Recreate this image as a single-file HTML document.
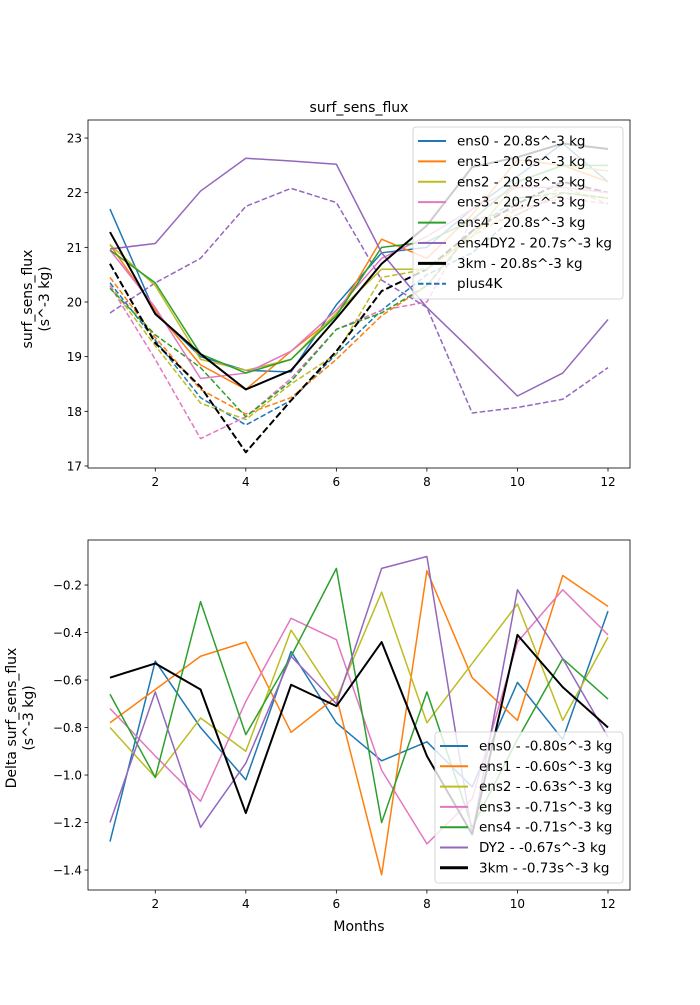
<!DOCTYPE html>
<html><head><meta charset="utf-8"><style>
body{margin:0;background:#fff;font-family:"Liberation Sans","DejaVu Sans",sans-serif}
</style></head><body>
<svg id="fig" width="700" height="1000" xmlns="http://www.w3.org/2000/svg" font-family="DejaVu Sans, Liberation Sans, sans-serif"></svg>
<script>
const months=[1,2,3,4,5,6,7,8,9,10,11,12];
const topSolidNames=["ens0","ens1","ens2","ens3","ens4","ens4DY2","3km"];
const topLegendLabels=["ens0 - 20.8s^-3 kg","ens1 - 20.6s^-3 kg","ens2 - 20.8s^-3 kg","ens3 - 20.7s^-3 kg","ens4 - 20.8s^-3 kg","ens4DY2 - 20.7s^-3 kg","3km - 20.8s^-3 kg","plus4K"];
const ens0=[21.7,19.8,19.0,18.75,18.72,19.95,20.9,21.0,21.7,22.3,22.9,22.2];
const ens1=[21.05,19.85,18.85,18.4,19.1,19.75,21.15,20.8,21.6,22.6,22.5,22.2];
const ens2=[21.05,20.3,18.95,18.75,18.95,19.8,20.6,20.6,21.2,22.2,22.5,22.4];
const ens3=[20.95,19.9,18.6,18.7,19.1,19.85,20.8,21.2,21.7,22.1,22.1,22.0];
const ens4=[20.95,20.35,19.05,18.7,18.95,19.75,21.0,21.1,21.5,22.2,22.5,22.5];
const dy2=[20.97,21.07,22.03,22.63,22.58,22.52,20.9,19.9,19.1,18.28,18.7,19.68];
const km3=[21.28,19.78,19.05,18.4,18.75,19.7,20.7,21.4,22.47,22.65,22.9,22.8];
const ens0p=[20.35,19.3,18.25,17.75,18.2,19.05,19.85,20.5,20.9,21.6,22.0,21.9];
const ens1p=[20.45,19.35,18.4,17.95,18.25,18.95,19.75,20.3,21.3,21.6,22.0,21.9];
const ens2p=[20.3,19.2,18.15,17.85,18.5,19.05,20.45,20.6,21.2,21.7,22.1,21.8];
const ens3p=[20.3,18.95,17.5,17.9,18.6,19.5,19.85,20.0,21.5,21.7,21.9,21.8];
const ens4p=[20.25,19.4,18.8,17.9,18.55,19.5,19.8,20.3,21.3,21.9,22.0,21.9];
const dy2p=[19.8,20.35,20.8,21.75,22.08,21.82,20.4,19.9,17.97,18.07,18.22,18.8];
const km3p=[20.7,19.25,18.45,17.25,18.2,19.1,20.2,20.6,21.3,21.8,22.2,22.0];
const d_ens0=[-1.28,-0.52,-0.80,-1.02,-0.48,-0.78,-0.94,-0.86,-1.05,-0.61,-0.85,-0.31];
const d_ens1=[-0.78,-0.64,-0.50,-0.44,-0.82,-0.67,-1.42,-0.14,-0.59,-0.77,-0.16,-0.29];
const d_ens2=[-0.80,-1.01,-0.76,-0.90,-0.39,-0.68,-0.23,-0.78,-0.53,-0.28,-0.77,-0.42];
const d_ens3=[-0.72,-0.92,-1.11,-0.69,-0.34,-0.43,-0.98,-1.29,-1.10,-0.44,-0.22,-0.41];
const d_ens4=[-0.66,-1.01,-0.27,-0.83,-0.50,-0.13,-1.20,-0.65,-1.22,-0.85,-0.51,-0.68];
const d_dy2=[-1.20,-0.65,-1.22,-0.95,-0.50,-0.70,-0.13,-0.08,-1.25,-0.22,-0.51,-0.84];
const d_km3=[-0.59,-0.53,-0.64,-1.16,-0.62,-0.71,-0.44,-0.92,-1.25,-0.41,-0.63,-0.80];
const bottomLegendLabels=["ens0 - -0.80s^-3 kg","ens1 - -0.60s^-3 kg","ens2 - -0.63s^-3 kg","ens3 - -0.71s^-3 kg","ens4 - -0.71s^-3 kg","DY2 - -0.67s^-3 kg","3km - -0.73s^-3 kg"];
const xTicks=[2,4,6,8,10,12];
const topYTicks=[17,18,19,20,21,22,23];
const botYTicks=[-1.4,-1.2,-1.0,-0.8,-0.6,-0.4,-0.2];

const svg=document.getElementById('fig');
const NS='http://www.w3.org/2000/svg';
function mk(tag,attrs,parent){const e=document.createElementNS(NS,tag);for(const k in attrs)e.setAttribute(k,attrs[k]);(parent||svg).appendChild(e);return e;}
const colors=['#1f77b4','#ff7f0e','#bcbd22','#e377c2','#2ca02c','#9467bd','#000000'];
const L=88,R=630;
const xmin=0.514,xmax=12.486;
const sx=v=>L+(v-xmin)/(xmax-xmin)*(R-L);

function axes(T,B,ymin,ymax,yt,fmt,name){
  const sy=v=>B-(v-ymin)/(ymax-ymin)*(B-T);
  const g=mk('g',{});
  
  
  xTicks.forEach(t=>{mk('line',{x1:sx(t),x2:sx(t),y1:B,y2:B+3.5,stroke:'#000','stroke-width':0.8},g);
    const tx=mk('text',{x:sx(t),y:B+18,'font-size':12,'text-anchor':'middle'},g);tx.textContent=t;
    });
  yt.forEach(t=>{mk('line',{x1:L-3.5,x2:L,y1:sy(t),y2:sy(t),stroke:'#000','stroke-width':0.8},g);
    const tx=mk('text',{x:L-6,y:sy(t)+4.5,'font-size':12,'text-anchor':'end'},g);tx.textContent=fmt(t);
    });
  return sy;
}
function line(vals,sy,color,w,dash,name){
  const p=mk('polyline',{points:months.map((m,i)=>sx(m)+','+sy(vals[i])).join(' '),fill:'none',stroke:color,'stroke-width':w,'stroke-dasharray':dash||'none','stroke-linejoin':'round'});
  
  
}
function frame(T,B){mk('rect',{x:L,y:T,width:R-L,height:B-T,fill:'none',stroke:'#000','stroke-width':0.8});}
function legend(x,y,w,h,labels,styles,name){
  const g=mk('g',{});
  
  
  mk('rect',{x:x,y:y,width:w,height:h,rx:3,fill:'#fff','fill-opacity':0.8,stroke:'#ccc','stroke-width':0.8},g);
  labels.forEach((lab,i)=>{const yy=y+14+i*((h-16)/(labels.length-0.35));
    const s=styles[i];
    mk('line',{x1:x+5,x2:x+33,y1:yy,y2:yy,stroke:s[0],'stroke-width':s[1],'stroke-dasharray':s[2]||'none'},g);
    const t=mk('text',{x:x+44,y:yy+4.5,'font-size':13.5},g);t.textContent=lab;
    });
}
// top
const sy1=axes(120,468,16.963,23.33,topYTicks,t=>t,'top-axes');
[ens0p,ens1p,ens2p,ens3p,ens4p,dy2p].forEach((v,i)=>line(v,sy1,colors[i],1.5,'5.5,2.5','plus4k-'+topSolidNames[i]));
line(km3p,sy1,'#000',2,'7,3','plus4k-3km');
[ens0,ens1,ens2,ens3,ens4,dy2].forEach((v,i)=>line(v,sy1,colors[i],1.5,null,'line-'+topSolidNames[i]));
line(km3,sy1,'#000',2,null,'line-3km');
frame(120,468);
legend(413,127,210,172,topLegendLabels,[[colors[0],2],[colors[1],2],[colors[2],2],[colors[3],2],[colors[4],2],[colors[5],2],['#000',3],[colors[0],2,'5.5,2.5']],'top-legend');
let t=mk('text',{x:359,y:112,'font-size':14,'text-anchor':'middle'});t.textContent='surf_sens_flux';

t=mk('text',{x:0,y:0,'font-size':14,'text-anchor':'middle',transform:'translate(32,299) rotate(-90)'});t.textContent='surf_sens_flux';

t=mk('text',{x:0,y:0,'font-size':14,'text-anchor':'middle',transform:'translate(49,299) rotate(-90)'});t.textContent='(s^-3 kg)';

// bottom
const sy2=axes(540,890,-1.484,-0.0105,botYTicks,t=>t.toFixed(1).replace('-','\u2212'),'bottom-axes');
[d_ens0,d_ens1,d_ens2,d_ens3,d_ens4,d_dy2].forEach((v,i)=>line(v,sy2,colors[i],1.5,null,'delta-'+topSolidNames[i]));
line(d_km3,sy2,'#000',2,null,'delta-3km');
frame(540,890);
legend(435,732,188,151,bottomLegendLabels,[[colors[0],2],[colors[1],2],[colors[2],2],[colors[3],2],[colors[4],2],[colors[5],2],['#000',3]],'bottom-legend');
t=mk('text',{x:359,y:931,'font-size':14,'text-anchor':'middle'});t.textContent='Months';

t=mk('text',{x:0,y:0,'font-size':14,'text-anchor':'middle',transform:'translate(16,718) rotate(-90)'});t.textContent='Delta surf_sens_flux';

t=mk('text',{x:0,y:0,'font-size':14,'text-anchor':'middle',transform:'translate(33,718) rotate(-90)'});t.textContent='(s^-3 kg)';

</script>
</body></html>
